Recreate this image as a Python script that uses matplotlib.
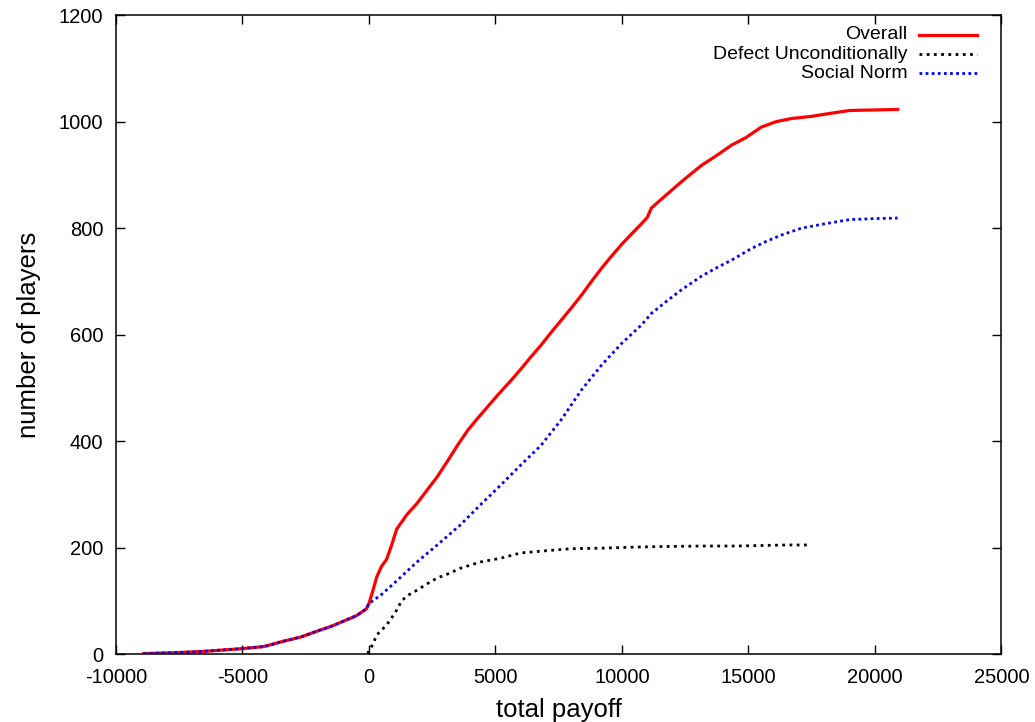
import numpy as np
import matplotlib.pyplot as plt

plt.rcParams['font.family'] = ['Liberation Sans', 'DejaVu Sans']
plt.rcParams['axes.unicode_minus'] = False

# cumulative number of players vs total payoff
overall_x = [-8900, -7500, -6600, -5100, -4200, -4000, -3400, -2700, -2000,
             -1500, -900, -500, -100, 0, 150, 310, 500, 700, 900, 1100, 1500,
             1900, 2300, 2700, 3100, 3500, 3900, 4300, 4700, 5100, 5600, 6000,
             6400, 6800, 7200, 7600, 8000, 8400, 8800, 9200, 9600, 10000,
             10400, 10770, 11000, 11170, 11600, 11960, 12500, 13150, 13700,
             14340, 14900, 15520, 16100, 16720, 17500, 18300, 19000, 20000,
             20900]
overall_y = [1, 3, 5, 10, 14, 16, 24, 32, 44, 52, 64, 72, 85, 95, 118, 145,
             165, 178, 205, 235, 262, 283, 308, 333, 362, 392, 420, 443, 465,
             487, 513, 535, 558, 580, 604, 627, 650, 674, 700, 725, 748, 770,
             790, 808, 820, 838, 856, 871, 893, 918, 935, 956, 970, 990, 1000,
             1006, 1010, 1016, 1021, 1022, 1023]

social_x = [-8900, -7500, -6600, -5100, -4200, -4000, -3400, -2700, -2000,
            -1500, -900, -500, -100, 0, 500, 1130, 1900, 2700, 3600, 4400, 5200,
            6000, 6800, 7600, 8400, 9200, 10000, 10770, 11170, 11800, 12350,
            13150, 13800, 14340, 15130, 15700, 16300, 17100, 18000, 19000,
            20000, 20900]
social_y = [1, 3, 5, 10, 14, 16, 24, 32, 44, 52, 64, 72, 85, 95, 112, 139,
            173, 205, 242, 280, 317, 355, 392, 440, 496, 543, 584, 618, 640,
            664, 684, 710, 727, 740, 762, 775, 787, 800, 808, 816, 818, 819]

defect_x = [-50, 150, 310, 500, 700, 900, 1100, 1300, 1600, 1900, 2300, 2700,
            3200, 3600, 4000, 4400, 5200, 6000, 7200, 8000, 9200, 10500, 11500,
            13150, 14500, 15500, 16500, 17400]
defect_y = [1, 18, 36, 45, 55, 68, 83, 101, 112, 120, 132, 143, 152, 161, 167,
            173, 180, 190, 195, 198, 199, 201, 202, 203, 203, 204, 205, 205]

fig = plt.figure(figsize=(10.35, 7.22), dpi=100)
ax = fig.add_axes([0.112, 0.094, 0.8555, 0.885])

ax.plot(overall_x, overall_y, color='#ff0000', lw=2.3, solid_joinstyle='round')
ax.plot(defect_x, defect_y, color='black', lw=2.0, linestyle=(0, (1, 1.6)))
ax.plot(social_x, social_y, color='#0000ff', lw=2.0, linestyle=(0, (1, 1.2)))

ax.set_xlim(-10000, 25000)
ax.set_ylim(0, 1200)
ax.set_xticks(np.arange(-10000, 25001, 5000))
ax.set_yticks(np.arange(0, 1201, 200))
ax.tick_params(direction='in', length=6.5, width=1, labelsize=14.5,
               top=True, right=True)
ax.tick_params(axis='x', pad=10)
ax.tick_params(axis='y', pad=9)
for s in ax.spines.values():
    s.set_linewidth(1.1)

ax.set_xlabel('total payoff', fontsize=18.5, labelpad=8)
ax.set_ylabel('number of players', fontsize=18.5, labelpad=13)

# legend, gnuplot style: text right-aligned, sample on its right
legend = [('Overall', '#ff0000', '-', 2.3),
          ('Defect Unconditionally', 'black', (0, (1, 1.6)), 2.0),
          ('Social Norm', '#0000ff', (0, (1, 1.2)), 2.0)]
for i, (name, col, ls, lw) in enumerate(legend):
    yy = 0.969 - i * 0.03
    ax.text(0.894, yy, name, transform=ax.transAxes, ha='right', va='center',
            fontsize=14)
    ax.plot([0.907, 0.972], [yy, yy], transform=ax.transAxes, color=col,
            linestyle=ls, lw=lw)

fig.savefig('out.png', dpi=100)
